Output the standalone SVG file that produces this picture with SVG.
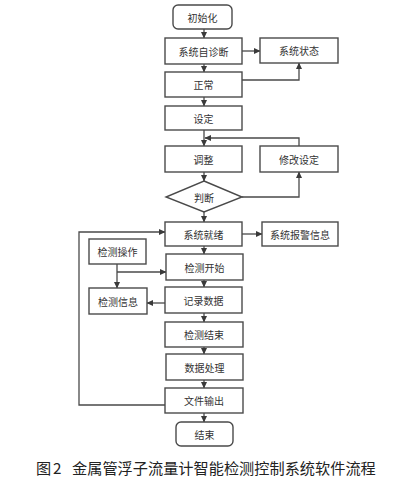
<svg xmlns="http://www.w3.org/2000/svg" width="420" height="479" viewBox="0 0 420 479">
<defs>
<style>
.b{fill:#fff;stroke:#4a4a4a;stroke-width:1.4}
.t{font-family:"Noto Sans CJK SC","Noto Sans",sans-serif;font-size:10px;fill:#333;text-anchor:middle;dominant-baseline:central}
.c{fill:none;stroke:#4a4a4a;stroke-width:1.3}
.cap{font-family:"Noto Sans CJK SC","Noto Sans",sans-serif;font-size:15.2px;fill:#222}
</style>
<marker id="a" markerWidth="7" markerHeight="7" refX="6" refY="3.5" orient="auto" markerUnits="userSpaceOnUse">
<path d="M0,0.5 L6.5,3.5 L0,6.5 Z" fill="#3a3a3a"/>
</marker>
</defs>
<rect width="420" height="479" fill="#fff"/>
<g id="connectors" class="c" marker-end="url(#a)">
<path d="M204,29 V38"/>
<path d="M242,51 H260"/>
<path d="M204,64 V72"/>
<path d="M242,80 H299 V63"/>
<path d="M204,97 V106"/>
<path d="M204,130 V146"/>
<path d="M299,146 V138 H205"/>
<path d="M204,172 V181"/>
<path d="M242,197 H299 V172"/>
<path d="M204,212 V222"/>
<path d="M242,234 H262"/>
<path d="M204,246 V254"/>
<path d="M117,264 V288"/>
<path d="M117,272 H166"/>
<path d="M204,280 V287"/>
<path d="M165,303 H147"/>
<path d="M204,313 V322"/>
<path d="M204,347 V354"/>
<path d="M204,380 V388"/>
<path d="M165,405 H79 V232 H165"/>
<path d="M204,413 V422"/>
</g>
<g id="n_init"><rect class="b" x="173" y="5" width="59" height="24" rx="5"/><text class="t" x="202.5" y="17">初始化</text></g>
<g id="n_selfdiag"><rect class="b" x="165" y="38" width="77" height="26"/><text class="t" x="203.5" y="51">系统自诊断</text></g>
<g id="n_status"><rect class="b" x="260" y="38" width="78" height="25"/><text class="t" x="299" y="50.5">系统状态</text></g>
<g id="n_normal"><rect class="b" x="165" y="72" width="77" height="25"/><text class="t" x="203.5" y="84.5">正常</text></g>
<g id="n_set"><rect class="b" x="165" y="106" width="77" height="24"/><text class="t" x="203.5" y="118">设定</text></g>
<g id="n_adjust"><rect class="b" x="165" y="146" width="77" height="26"/><text class="t" x="203.5" y="159">调整</text></g>
<g id="n_modify"><rect class="b" x="260" y="146" width="78" height="26"/><text class="t" x="299" y="159">修改设定</text></g>
<g id="n_judge"><polygon class="b" points="204,181 242,197 204,212 166,197"/><text class="t" x="204" y="197">判断</text></g>
<g id="n_ready"><rect class="b" x="165" y="222" width="77" height="24"/><text class="t" x="203.5" y="234">系统就绪</text></g>
<g id="n_alarm"><rect class="b" x="262" y="222" width="76" height="24"/><text class="t" x="300" y="234">系统报警信息</text></g>
<g id="n_op"><rect class="b" x="89" y="239" width="57" height="25"/><text class="t" x="117.5" y="251.5">检测操作</text></g>
<g id="n_start"><rect class="b" x="166" y="254" width="77" height="26"/><text class="t" x="204.5" y="267">检测开始</text></g>
<g id="n_info"><rect class="b" x="89" y="288" width="58" height="26"/><text class="t" x="118" y="301">检测信息</text></g>
<g id="n_record"><rect class="b" x="165" y="287" width="77" height="26"/><text class="t" x="203.5" y="300">记录数据</text></g>
<g id="n_end_det"><rect class="b" x="165" y="322" width="78" height="25"/><text class="t" x="204" y="334.5">检测结束</text></g>
<g id="n_proc"><rect class="b" x="166" y="354" width="77" height="26"/><text class="t" x="204.5" y="367">数据处理</text></g>
<g id="n_out"><rect class="b" x="165" y="388" width="78" height="25"/><text class="t" x="204" y="400.5">文件输出</text></g>
<g id="n_end"><rect class="b" x="176" y="422" width="57" height="24" rx="5"/><text class="t" x="204.5" y="434">结束</text></g>
<text class="cap" y="474"><tspan x="36">图</tspan><tspan x="53">2</tspan><tspan x="72">金属管浮子流量计智能检测控制系统软件流程</tspan></text>
</svg>
